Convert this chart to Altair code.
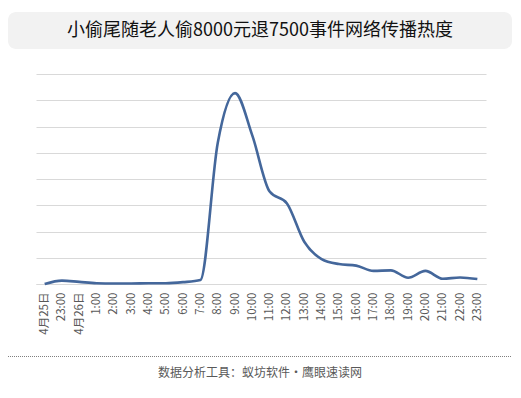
import altair as alt
import pandas as pd

# ---- data ----
labels = ["4月25日", "23:00", "4月26日", "1:00", "2:00", "3:00", "4:00", "5:00",
          "6:00", "7:00", "8:00", "9:00", "10:00", "11:00", "12:00", "13:00",
          "14:00", "15:00", "16:00", "17:00", "18:00", "19:00", "20:00",
          "21:00", "22:00", "23:00"]
heat = [0, 13, 8, 3, 2, 2, 3, 3, 7, 15, 537, 727, 565, 352, 307, 161,
        95, 76, 70, 50, 52, 24, 50, 20, 25, 19]

title_text = "小偷尾随老人偷8000元退7500事件网络传播热度"
footer_text = "数据分析工具：蚁坊软件・鹰眼速读网"

df = pd.DataFrame({"idx": list(range(len(labels))), "heat": heat})
one = pd.DataFrame({"k": [0]})

FONT = "Noto Sans CJK SC"
label_arr = "[" + ",".join("'" + s + "'" for s in labels) + "]"

W, H = 450, 210

line = alt.Chart(df).mark_line(
    interpolate="monotone", color="#44679b", strokeWidth=2.6
).encode(
    x=alt.X("idx:Q",
            scale=alt.Scale(domain=[-0.5, len(labels) - 0.5], nice=False, zero=False),
            axis=alt.Axis(values=list(range(len(labels))), labelExpr=label_arr + "[datum.value]",
                          labelAngle=-90, grid=False, ticks=False, tickSize=0,
                          labelPadding=8, domainColor="#d9d9d9", labelColor="#595959",
                          labelFont=FONT, labelFontSize=11.5, title=None,
                          labelOverlap=False)),
    y=alt.Y("heat:Q",
            scale=alt.Scale(domain=[0, 800], nice=False),
            axis=alt.Axis(values=list(range(0, 801, 100)), labels=False, ticks=False,
                          domain=False, grid=True, gridColor="#d9d9d9", title=None)),
)

title_box = alt.Chart(one).mark_rect(color="#f2f2f2", cornerRadius=8).encode(
    x=alt.value(-28), x2=alt.value(476), y=alt.value(-62), y2=alt.value(-25))

title = alt.Chart(one).mark_text(
    text=title_text, font=FONT, fontSize=18, color="#111111",
    align="center", baseline="middle").encode(x=alt.value(224), y=alt.value(-43))

footer_rule = alt.Chart(one).mark_rule(
    color="#7f7f7f", strokeDash=[1, 1], strokeWidth=1).encode(
    x=alt.value(-28), x2=alt.value(476), y=alt.value(282.5))

footer = alt.Chart(one).mark_text(
    text=footer_text, font=FONT, fontSize=12, color="#595959",
    align="center", baseline="middle").encode(x=alt.value(224), y=alt.value(299))

chart = alt.layer(title_box, title, line, footer_rule, footer).properties(
    width=W, height=H,
    background="white",
    autosize=alt.AutoSizeParams(type="none"),
    padding={"left": 28, "top": 66, "right": 27, "bottom": 98},
).configure_view(strokeWidth=0, stroke="transparent")

chart.save("out.html", embed_options={"renderer": "svg", "actions": False})
